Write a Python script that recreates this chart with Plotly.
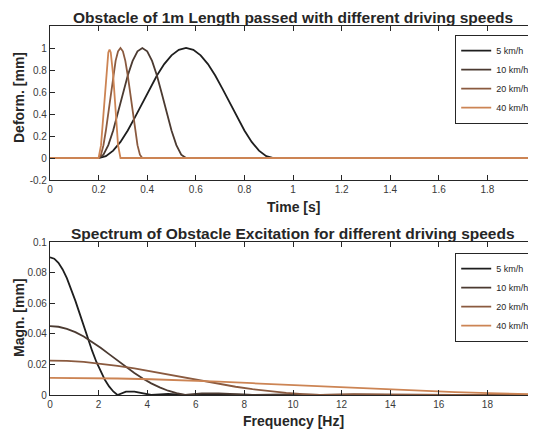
import plotly.graph_objects as go

# ---------------- data ----------------
speeds = ["5 km/h", "10 km/h", "20 km/h", "40 km/h"]
colors = ["#1e1e1e", "#4b3a31", "#8a5a3f", "#cc8454"]

# Top: deformation vs time
t_5 = [0, 0.2, 0.23, 0.26, 0.29, 0.32, 0.35, 0.38, 0.41, 0.44, 0.47, 0.5, 0.53, 0.56,
       0.59, 0.62, 0.65, 0.68, 0.71, 0.74, 0.77, 0.8, 0.83, 0.86, 0.89, 0.92, 2.0]
d_5 = [0, 0, 0.017, 0.067, 0.146, 0.25, 0.371, 0.5, 0.629, 0.75, 0.854, 0.933, 0.983, 1.0,
       0.983, 0.933, 0.854, 0.75, 0.629, 0.5, 0.371, 0.25, 0.146, 0.067, 0.017, 0, 0]
t_10 = [0, 0.2, 0.22, 0.24, 0.26, 0.28, 0.3, 0.32, 0.34, 0.36, 0.38, 0.4, 0.42, 0.44,
        0.46, 0.48, 0.5, 0.52, 0.54, 0.56, 2.0]
d_10 = [0, 0, 0.03, 0.117, 0.25, 0.413, 0.587, 0.75, 0.883, 0.97, 1.0, 0.97, 0.883, 0.75,
        0.587, 0.413, 0.25, 0.117, 0.03, 0, 0]
t_20 = [0, 0.2, 0.21, 0.22, 0.23, 0.24, 0.25, 0.26, 0.27, 0.28, 0.29, 0.3, 0.31, 0.32,
        0.33, 0.34, 0.35, 0.36, 0.37, 0.38, 2.0]
d_20 = [0, 0, 0.03, 0.117, 0.25, 0.413, 0.587, 0.75, 0.883, 0.97, 1.0, 0.97, 0.883, 0.75,
        0.587, 0.413, 0.25, 0.117, 0.03, 0, 0]
t_40 = [0, 0.2, 0.21, 0.22, 0.23, 0.24, 0.245, 0.25, 0.26, 0.27, 0.28, 0.29, 2.0]
d_40 = [0, 0, 0.117, 0.413, 0.75, 0.96, 0.985, 0.96, 0.75, 0.413, 0.117, 0, 0]

# Bottom: spectrum magnitude vs frequency
f_5 = [0, 0.174, 0.347, 0.521, 0.694, 0.868, 1.042, 1.215, 1.389, 1.563, 1.736, 1.91, 2.083,
       2.257, 2.431, 2.604, 2.778, 3.125, 3.472, 3.819, 4.167, 4.861, 5.556, 6.25, 6.944,
       7.639, 8.333, 20]
m_5 = [0.09, 0.0891, 0.0864, 0.0821, 0.0764, 0.0695, 0.0617, 0.0535, 0.045, 0.0367, 0.0288,
       0.0216, 0.0153, 0.0099, 0.0056, 0.0023, 0, 0.0022, 0.0022, 0.0011, 0, 0.0007, 0,
       0.0003, 0, 0.0002, 0, 0]
f_10 = [0, 0.347, 0.694, 1.042, 1.389, 1.736, 2.083, 2.431, 2.778, 3.125, 3.472, 3.819, 4.167,
        4.514, 4.861, 5.208, 5.556, 6.25, 6.944, 7.639, 8.333, 9.722, 11.11, 12.5, 13.89, 20]
m_10 = [0.045, 0.0446, 0.0432, 0.0411, 0.0382, 0.0347, 0.0309, 0.0267, 0.0225, 0.0183, 0.0144,
        0.0108, 0.0076, 0.005, 0.0028, 0.0012, 0, 0.0011, 0.0011, 0.0006, 0, 0.0004, 0,
        0.0002, 0, 0]
f_20 = [0, 0.694, 1.389, 2.083, 2.778, 3.472, 4.167, 4.861, 5.556, 6.25, 6.944, 7.639, 8.333,
        9.028, 9.722, 10.417, 11.11, 12.5, 13.89, 15.28, 16.67, 19.44, 20]
m_20 = [0.0225, 0.0223, 0.0216, 0.0205, 0.0191, 0.0174, 0.0154, 0.0134, 0.0113, 0.0092, 0.0072,
        0.0054, 0.0038, 0.0025, 0.0014, 0.0006, 0, 0.00055, 0.00055, 0.0003, 0, 0.0002, 0.0002]
f_40 = [0, 1.389, 2.778, 4.167, 5.556, 6.944, 8.333, 9.722, 11.11, 12.5, 13.89, 15.28, 16.67,
        18.06, 19.44, 20]
m_40 = [0.01125, 0.0111, 0.0108, 0.0103, 0.0096, 0.0087, 0.0077, 0.0067, 0.0056, 0.0046,
        0.0036, 0.0027, 0.0019, 0.0012, 0.0007, 0.0005]

time_series = [(t_5, d_5), (t_10, d_10), (t_20, d_20), (t_40, d_40)]
freq_series = [(f_5, m_5), (f_10, m_10), (f_20, m_20), (f_40, m_40)]

time_ticks = [0, 0.2, 0.4, 0.6, 0.8, 1, 1.2, 1.4, 1.6, 1.8, 2]
time_ticklabels = ["0", "0.2", "0.4", "0.6", "0.8", "1", "1.2", "1.4", "1.6", "1.8", "2"]
deform_ticks = [-0.2, 0, 0.2, 0.4, 0.6, 0.8, 1]
deform_ticklabels = ["-0.2", "0", "0.2", "0.4", "0.6", "0.8", "1"]
freq_ticks = [0, 2, 4, 6, 8, 10, 12, 14, 16, 18, 20]
magn_ticks = [0, 0.02, 0.04, 0.06, 0.08, 0.1]
magn_ticklabels = ["0", "0.02", "0.04", "0.06", "0.08", "0.1"]

# ---------------- figure ----------------
OFF = 8                      # page body margin of the html page
W, H = 536 - OFF, 432 - OFF
L = 42                       # left plot edge inside figure
PW = W - L

def px(xr):                  # reference page x -> paper fraction
    return (xr - OFF - L) / PW

def py(yr):                  # reference page y -> paper fraction
    return 1 - (yr - OFF) / H

fig = go.Figure()
for name, col, (x, y) in zip(speeds, colors, time_series):
    fig.add_trace(go.Scatter(x=x, y=y, mode="lines", name=name, line=dict(color=col, width=1.8),
                             xaxis="x", yaxis="y", legend="legend"))
for name, col, (x, y) in zip(speeds, colors, freq_series):
    fig.add_trace(go.Scatter(x=x, y=y, mode="lines", name=name, line=dict(color=col, width=1.8),
                             xaxis="x2", yaxis="y2", legend="legend2"))

axcol = "#262626"
FONT = "Liberation Sans, Arial, sans-serif"
tickfont = dict(family=FONT, size=10, color="#3a3a3a")
common = dict(showline=True, linecolor=axcol, linewidth=1.2, mirror="ticks", ticks="inside",
              ticklen=5, tickcolor=axcol, tickwidth=1, showgrid=False, zeroline=False,
              tickfont=tickfont, automargin=False)

legfont = dict(family=FONT, size=9, color="#262626")
fig.update_layout(
    width=W, height=H,
    margin=dict(l=L, r=0, t=0, b=0),
    plot_bgcolor="white", paper_bgcolor="white",
    xaxis=dict(domain=[0, 1], range=[0, 2], tickvals=time_ticks, ticktext=time_ticklabels,
               anchor="y", **common),
    yaxis=dict(domain=[py(180), py(26)], range=[-0.2, 1.2], tickvals=deform_ticks,
               ticktext=deform_ticklabels, anchor="x", **common),
    xaxis2=dict(domain=[0, 1], range=[0, 20], tickvals=freq_ticks, anchor="y2", **common),
    yaxis2=dict(domain=[py(395), py(242)], range=[0, 0.1], tickvals=magn_ticks,
                ticktext=magn_ticklabels, anchor="x2", **common),
    legend=dict(x=px(455), y=py(35), xanchor="left", yanchor="top", bgcolor="white",
                bordercolor=axcol, borderwidth=1.2, itemwidth=30, tracegroupgap=0,
                font=legfont),
    legend2=dict(x=px(455), y=py(253), xanchor="left", yanchor="top", bgcolor="white",
                 bordercolor=axcol, borderwidth=1.2, itemwidth=30, tracegroupgap=0,
                 font=legfont),
)

titlefont = dict(family=FONT, size=15.5, color="#262626")
labfont = dict(family=FONT, size=14, color="#262626")
annots = [
    dict(text="<b>Obstacle of 1m Length passed with different driving speeds</b>",
         x=px(293), y=py(17), font=titlefont),
    dict(text="<b>Spectrum of Obstacle Excitation for different driving speeds</b>",
         x=px(293), y=py(233), font=titlefont),
    dict(text="<b>Time [s]</b>", x=px(293), y=py(207), font=labfont),
    dict(text="<b>Frequency [Hz]</b>", x=px(293), y=py(421), font=labfont),
    dict(text="<b>Deform. [mm]</b>", x=px(19), y=py(98), font=labfont, textangle=-90),
    dict(text="<b>Magn. [mm]</b>", x=px(19), y=py(318), font=labfont, textangle=-90),
]
for a in annots:
    fig.add_annotation(xref="paper", yref="paper", showarrow=False, xanchor="center",
                       yanchor="middle", **a)

fig.write_html("out.html")
